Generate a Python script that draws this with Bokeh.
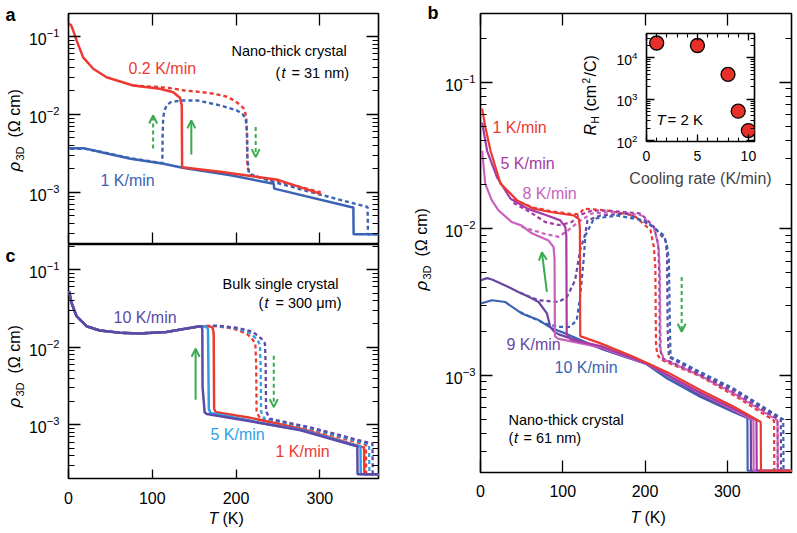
import numpy as np
from bokeh.plotting import figure
from bokeh.models import (LinearAxis, LogAxis, LogTicker, SingleIntervalTicker, Range1d,
                          Label, Arrow, OpenHead, CustomJSTickFormatter)
from bokeh.layouts import row, column
from bokeh.embed import file_html
from bokeh.resources import INLINE

FONT = "Liberation Sans"
RED = "#ec3a32"; BLUE = "#3a63b4"; LBLUE = "#2e9fe3"; PURPLE_C = "#5b4aa7"
VIOLET = "#6a46a2"; MAGENTA = "#a53ba4"; PINK = "#c862bd"; GREEN = "#3aaa4e"

# ---------------- data: panel a (nano-thick crystal, t = 31 nm) ----------------
a_red_cool_T = [0.5, 3, 5.6, 9.6, 17.5, 29.5, 45.4, 77, 109, 125, 133, 135.2, 135.6, 185.6, 250, 301]
a_red_cool_rho = [0.145, 0.140, 0.119, 0.089, 0.054, 0.0386, 0.030, 0.0235, 0.0214, 0.0193, 0.0164, 0.0130,
                  0.00211, 0.00182, 0.00145, 0.00096]
a_red_heat_T = [77, 93, 110, 125, 138, 156, 174, 190, 197.5, 205, 209.5, 212, 213, 213.5, 217.4, 253, 301]
a_red_heat_rho = [0.0235, 0.0229, 0.0224, 0.0215, 0.0203, 0.0195, 0.0184, 0.0168, 0.0151, 0.0133, 0.0118,
                  0.0095, 0.0060, 0.0021, 0.00166, 0.00136, 0.00101]
a_blue_cool_T = [0.5, 18, 38, 74, 112, 136, 193.5, 245, 245.5, 337, 340, 340.3, 372]
a_blue_cool_rho = [0.0037, 0.0037, 0.0033, 0.0027, 0.00235, 0.00207, 0.00166, 0.00129, 0.00112, 0.00065,
                   0.00064, 0.00029, 0.00029]
a_blue_heat_T = [2, 20, 40, 74, 112, 112.3, 113, 114.5, 117, 122, 134, 154, 182, 201.5, 208, 211.5, 213,
                 213.5, 215.4, 245, 297, 357, 357.4, 372]
a_blue_heat_rho = [0.00362, 0.00362, 0.00330, 0.00275, 0.00237, 0.0050, 0.0090, 0.0112, 0.0130, 0.0144,
                   0.0151, 0.0151, 0.0130, 0.0112, 0.0100, 0.0088, 0.0060, 0.00284, 0.00174, 0.00136,
                   0.00096, 0.00065, 0.00029, 0.00029]

# ---------------- data: panel c (bulk single crystal, t = 300 um) ----------------
c_common_T = [0.8, 3.6, 9.6, 21.5, 37.4, 61.3, 85, 117, 141, 157]
c_common_rho = [0.053, 0.0375, 0.0252, 0.0187, 0.0165, 0.0154, 0.0151, 0.0158, 0.0175, 0.0187]
c10_cool_T = [159, 159.7, 160, 162.5, 165, 237, 277, 341, 344.7, 345, 372]
c10_cool_rho = [0.0186, 0.017, 0.0031, 0.00145, 0.00138, 0.00102, 0.00085, 0.00054, 0.00053, 0.00023, 0.00023]
c5_cool_T = [160, 164, 166.5, 167.5, 169.5, 240, 280, 343, 348.5, 348.8, 372]
c5_cool_rho = [0.0187, 0.0186, 0.0172, 0.0016, 0.00142, 0.00101, 0.00085, 0.00054, 0.00053, 0.00023, 0.00023]
c1_cool_T = [160, 168, 172, 173.3, 173.8, 176, 217, 280, 350, 352.8, 353.1, 372]
c1_cool_rho = [0.0187, 0.0188, 0.0180, 0.0150, 0.0016, 0.00145, 0.00123, 0.00088, 0.00052, 0.00051,
               0.00023, 0.00023]
c1_heat_T = [157, 175, 197, 213, 220, 223, 224, 224.5, 229.5, 285, 352.8, 355, 355.3, 372]
c1_heat_rho = [0.0187, 0.0188, 0.0174, 0.0149, 0.0125, 0.0110, 0.0060, 0.00145, 0.00117, 0.00090, 0.00056,
               0.00055, 0.00023, 0.00023]
c5_heat_T = [157, 177, 200, 216, 225, 228.5, 229.3, 229.8, 234, 287, 356, 358.8, 359.1, 372]
c5_heat_rho = [0.0187, 0.0189, 0.0176, 0.0154, 0.0127, 0.0108, 0.0060, 0.00148, 0.00119, 0.00091, 0.00057,
               0.00056, 0.00023, 0.00023]
c10_heat_T = [157, 179, 203, 220, 230, 234.5, 235.3, 235.8, 240, 290, 360, 362.8, 363.1, 372]
c10_heat_rho = [0.0187, 0.0190, 0.0178, 0.0158, 0.0130, 0.0112, 0.0060, 0.00150, 0.00120, 0.00092, 0.00058,
                0.00057, 0.00023, 0.00023]

# ---------------- data: panel b (nano-thick crystal, t = 61 nm) ----------------
b_red_cool_T = [2, 6, 12.2, 24.3, 44.6, 64.8, 85, 113.5, 119.6, 120.8, 121.2, 146, 186.5, 227, 267.6, 308,
                340.6, 340.9, 380]
b_red_cool_rho = [0.066, 0.049, 0.034, 0.0203, 0.0156, 0.0137, 0.0130, 0.0123, 0.0117, 0.0100, 0.00185,
                  0.00165, 0.00133, 0.00105, 0.00079, 0.00061, 0.00048, 0.000223, 0.000223]
b_red_heat_T = [40, 65, 85, 110, 120, 125.7, 154, 186.5, 206.6, 210.7, 212.5, 213.3, 215, 219, 267.6, 308,
                356.8, 357.1, 380]
b_red_heat_rho = [0.0158, 0.0139, 0.0132, 0.0126, 0.0126, 0.0137, 0.0133, 0.0123, 0.0098, 0.0075, 0.0055,
                  0.0016, 0.00138, 0.00128, 0.00098, 0.00073, 0.00049, 0.000223, 0.000223]
b_mag_cool_T = [2, 8, 20, 36.5, 57, 81, 97, 103, 104.3, 104.8, 110, 146, 200, 267.6, 308, 335.4, 335.7, 380]
b_mag_cool_rho = [0.053, 0.034, 0.0225, 0.0160, 0.0137, 0.0123, 0.0114, 0.0103, 0.0090, 0.00190, 0.00175,
                  0.00158, 0.00122, 0.00076, 0.00059, 0.000495, 0.000223, 0.000223]
b_mag_heat_T = [40, 60, 78.7, 95, 103, 111, 119, 135.4, 154, 194.6, 210.8, 216, 217.3, 218, 222, 267.6, 308,
                361, 361.3, 380]
b_mag_heat_rho = [0.0150, 0.0130, 0.0111, 0.0106, 0.0108, 0.0111, 0.0123, 0.0133, 0.0133, 0.0127, 0.0103,
                  0.0078, 0.0050, 0.00150, 0.00130, 0.00100, 0.00076, 0.00050, 0.000223, 0.000223]
b_pink_cool_T = [2, 5.7, 13.8, 22, 38, 50, 62.4, 82.7, 88.8, 90, 90.5, 94, 146, 200, 267.6, 308, 331.7, 332, 380]
b_pink_cool_rho = [0.034, 0.0203, 0.0156, 0.0133, 0.0111, 0.0105, 0.0093, 0.0083, 0.0075, 0.0062, 0.00185,
                   0.00178, 0.00155, 0.00121, 0.00075, 0.00058, 0.000495, 0.000223, 0.000223]
b_pink_heat_T = [50, 78.7, 95, 107, 119, 135, 160, 195, 211, 216.5, 218, 219, 224, 267.6, 308, 361, 361.3, 380]
b_pink_heat_rho = [0.0103, 0.0092, 0.0088, 0.0098, 0.0111, 0.0127, 0.0130, 0.0124, 0.0101, 0.0075, 0.0050,
                   0.00145, 0.00127, 0.00099, 0.00075, 0.00049, 0.000223, 0.000223]
b_vio_cool_T = [0.5, 8, 14, 30, 46, 60, 70.6, 80.7, 84.8, 88.8, 95, 146, 200, 267.6, 308, 328.5, 328.8, 380]
b_vio_cool_rho = [0.00445, 0.0046, 0.0045, 0.0041, 0.0037, 0.0034, 0.00316, 0.00264, 0.00214, 0.0020, 0.0019,
                  0.00153, 0.00121, 0.00073, 0.00057, 0.00050, 0.000223, 0.000223]
b_vio_heat_T = [48, 70.6, 95, 105, 115, 121, 127.3, 130, 146, 178.5, 210.8, 225, 226.7, 227.5, 229, 239, 267.6,
                308, 365, 365.3, 380]
b_vio_heat_rho = [0.00365, 0.00325, 0.00316, 0.00342, 0.00445, 0.0071, 0.0092, 0.0114, 0.0123, 0.0127, 0.0103,
                  0.0083, 0.0066, 0.0020, 0.00133, 0.00124, 0.00102, 0.00079, 0.00050, 0.000223, 0.000223]
b_blue_cool_T = [0.5, 13.8, 30, 50, 70.6, 86.7, 103, 146, 200.7, 227, 267.6, 308, 324.4, 324.7, 380]
b_blue_cool_rho = [0.00309, 0.00325, 0.00316, 0.00264, 0.00238, 0.00209, 0.00193, 0.00152, 0.00120, 0.00095,
                   0.00071, 0.00056, 0.00051, 0.000223, 0.000223]
b_blue_heat_T = [48, 78.7, 95, 109, 117, 121, 125, 127.5, 137.8, 166, 198.6, 223, 227, 229, 230, 231, 239,
                 267.6, 308, 368, 368.3, 380]
b_blue_heat_rho = [0.0027, 0.00225, 0.00214, 0.00214, 0.00238, 0.00342, 0.0058, 0.0090, 0.0117, 0.0123, 0.0114,
                   0.0090, 0.0075, 0.0061, 0.0025, 0.00133, 0.00127, 0.00105, 0.00081, 0.00050, 0.000223,
                   0.000223]

# ---------------- data: inset (Hall coefficient at T = 2 K) ----------------
inset_rate = [1, 5, 8, 9, 10]
inset_RH = [2.3e4, 2.0e4, 4.0e3, 515, 175]

# green arrows: (x_start, y_start, x_end, y_end, dashed)
a_arrows = [(101, 3.66e-3, 101, 9.7e-3, True), (146.6, 3.07e-3, 146.6, 8.4e-3, False),
            (223.4, 6.9e-3, 223.4, 2.84e-3, True)]
c_arrows = [(151.7, 2.1e-3, 151.7, 9.6e-3, False), (245, 7.8e-3, 245, 1.69e-3, True)]
b_arrows = [(80.7, 3.7e-3, 74.6, 6.9e-3, False), (244.5, 4.69e-3, 244.5, 1.98e-3, True)]

# ---------------- geometry (page pixels of each plot frame) ----------------
GA = dict(fx=68, fy=13, fw=310, fh=231, x=(0, 370), y=(2.15e-4, 0.197))
GC = dict(fx=68, fy=244, fw=310, fh=234, x=(0, 370), y=(2.03e-4, 0.212))
GB = dict(fx=480, fy=13, fw=311, fh=459, x=(0, 378), y=(2.17e-4, 0.294))
GI = dict(fx=646, fy=33, fw=108, fh=108, x=(0, 10.6), y=(95, 3.9e4))


def pg(g, px, py):
    x0, x1 = g["x"]
    y0, y1 = np.log10(g["y"][0]), np.log10(g["y"][1])
    return (float(x0 + (px - g["fx"]) / g["fw"] * (x1 - x0)),
            float(10 ** (y1 - (py - g["fy"]) / g["fh"] * (y1 - y0))))


def make_fig(g, cl, ct, width, height, transparent=False):
    p = figure(width=width, height=height, x_range=Range1d(*g["x"]), y_range=Range1d(*g["y"]),
               y_axis_type="log", x_axis_location=None, y_axis_location=None,
               output_backend="svg", toolbar_location=None,
               min_border_left=g["fx"] - cl, min_border_top=g["fy"] - ct,
               min_border_right=width - (g["fx"] - cl) - g["fw"],
               min_border_bottom=height - (g["fy"] - ct) - g["fh"])
    p.grid.visible = False
    p.outline_line_color = "black"
    p.outline_line_width = 1.6
    p.outline_line_alpha = 1
    if transparent:
        p.border_fill_alpha = 0
    return p


def style_ticks(ax, tin, tmin):
    ax.axis_line_color = None
    ax.major_tick_in = tin
    ax.major_tick_out = 0
    ax.minor_tick_in = tmin
    ax.minor_tick_out = 0
    ax.major_tick_line_color = "black"
    ax.major_tick_line_width = 1.3
    ax.minor_tick_line_color = "black"
    ax.minor_tick_line_width = 1.1


def style_labels(ax, fs, standoff):
    ax.major_label_text_font = FONT
    ax.major_label_text_font_size = fs
    ax.major_label_text_color = "black"
    ax.major_label_standoff = standoff


def add_y(p, side, labels, fs="16px", standoff=9, tin=12, tmin=6):
    if labels:
        ax = LogAxis(ticker=LogTicker(num_minor_ticks=10))
        style_labels(ax, fs, standoff)
    else:
        ax = LinearAxis(ticker=LogTicker(num_minor_ticks=10),
                        formatter=CustomJSTickFormatter(code="return ''"))
        ax.major_label_standoff = 0
    style_ticks(ax, tin, tmin)
    p.add_layout(ax, side)
    return ax


def add_x(p, side, labels, interval=100, nminor=0, fs="16px", standoff=9, tin=12, tmin=6):
    tk = SingleIntervalTicker(interval=interval, num_minor_ticks=nminor)
    if labels:
        ax = LinearAxis(ticker=tk)
        style_labels(ax, fs, standoff)
    else:
        ax = LinearAxis(ticker=tk, formatter=CustomJSTickFormatter(code="return ''"))
        ax.major_label_orientation = "vertical"
        ax.major_label_standoff = 0
    style_ticks(ax, tin, tmin)
    p.add_layout(ax, side)
    return ax


def txt(p, g, text, px, py, size="15px", color="black", style="normal", angle=0.0, align="left"):
    x, y = pg(g, px, py)
    p.add_layout(Label(x=x, y=y, text=text, text_font=FONT, text_font_size=size, text_color=color,
                       text_font_style=style, angle=angle, text_align=align, text_baseline="middle"))


def arrows(p, specs):
    for xs, ys, xe, ye, dashed in specs:
        p.add_layout(Arrow(x_start=xs, y_start=ys, x_end=xe, y_end=ye, line_color=GREEN, line_width=2,
                           line_dash="4 3" if dashed else "solid",
                           end=OpenHead(size=8, line_color=GREEN, line_width=2)))


# ---------------- panel a ----------------
pa = make_fig(GA, 0, 0, 398, 244)
add_y(pa, "left", True)
add_y(pa, "right", False)
add_x(pa, "below", False)
add_x(pa, "above", False)
pa.line(a_red_heat_T, a_red_heat_rho, line_color=RED, line_width=2.4, line_dash="4 3")
pa.line(a_blue_heat_T, a_blue_heat_rho, line_color=BLUE, line_width=2.4, line_dash="4 3")
pa.line(a_blue_cool_T, a_blue_cool_rho, line_color=BLUE, line_width=2.5)
pa.line(a_red_cool_T, a_red_cool_rho, line_color=RED, line_width=2.5)
arrows(pa, a_arrows)
txt(pa, GA, "Nano-thick crystal", 231, 50, size="14.5px")
txt(pa, GA, "(", 275, 72, size="14.5px")
txt(pa, GA, "t", 281, 72, size="14.5px", style="italic")
txt(pa, GA, "= 31 nm)", 291, 72, size="14.5px")
txt(pa, GA, "0.2 K/min", 128, 68, size="16px", color=RED)
txt(pa, GA, "1 K/min", 100, 180, size="16px", color=BLUE)

# ---------------- panel c ----------------
pc = make_fig(GC, 0, 244, 398, 284)
add_y(pc, "left", True)
add_y(pc, "right", False)
add_x(pc, "below", True, standoff=13, tin=9)
for T_tail, r_tail, col in [(c1_heat_T, c1_heat_rho, RED), (c5_heat_T, c5_heat_rho, LBLUE),
                            (c10_heat_T, c10_heat_rho, PURPLE_C)]:
    pc.line(c_common_T + T_tail, c_common_rho + r_tail, line_color=col, line_width=2.3, line_dash="4 3")
for T2, r2, col in [(c1_cool_T, c1_cool_rho, RED), (c5_cool_T, c5_cool_rho, LBLUE),
                    (c10_cool_T, c10_cool_rho, PURPLE_C)]:
    pc.line(c_common_T + T2, c_common_rho + r2, line_color=col, line_width=2.5)
arrows(pc, c_arrows)
txt(pc, GC, "Bulk single crystal", 222, 283, size="14.5px")
txt(pc, GC, "(", 258, 302, size="14.5px")
txt(pc, GC, "t", 264, 302, size="14.5px", style="italic")
txt(pc, GC, "= 300 \u03bcm)", 275, 302, size="14.5px")
txt(pc, GC, "10 K/min", 113, 317, size="16px", color=PURPLE_C)
txt(pc, GC, "5 K/min", 210, 434, size="16px", color=LBLUE)
txt(pc, GC, "1 K/min", 275, 451, size="16px", color=RED)

# ---------------- panel b ----------------
pb = make_fig(GB, 398, 0, 397, 527)
add_y(pb, "left", True, standoff=5)
add_y(pb, "right", False)
add_x(pb, "below", True, standoff=12)
add_x(pb, "above", False)
for T, r, col in [(b_red_heat_T, b_red_heat_rho, RED), (b_mag_heat_T, b_mag_heat_rho, MAGENTA),
                  (b_pink_heat_T, b_pink_heat_rho, PINK), (b_vio_heat_T, b_vio_heat_rho, VIOLET),
                  (b_blue_heat_T, b_blue_heat_rho, BLUE)]:
    pb.line(T, r, line_color=col, line_width=2.2, line_dash="4 3")
for T, r, col in [(b_blue_cool_T, b_blue_cool_rho, BLUE), (b_vio_cool_T, b_vio_cool_rho, VIOLET),
                  (b_pink_cool_T, b_pink_cool_rho, PINK), (b_mag_cool_T, b_mag_cool_rho, MAGENTA),
                  (b_red_cool_T, b_red_cool_rho, RED)]:
    pb.line(T, r, line_color=col, line_width=2.2)
arrows(pb, b_arrows)
txt(pb, GB, "1 K/min", 492, 127, size="16px", color=RED)
txt(pb, GB, "5 K/min", 500, 163, size="16px", color=MAGENTA)
txt(pb, GB, "8 K/min", 522, 193, size="16px", color=PINK)
txt(pb, GB, "9 K/min", 506, 344, size="16px", color=VIOLET)
txt(pb, GB, "10 K/min", 554, 367, size="16px", color=BLUE)
txt(pb, GB, "Nano-thick crystal", 508, 419, size="14.5px")
txt(pb, GB, "(", 508, 437, size="14.5px")
txt(pb, GB, "t", 513.5, 437, size="14.5px", style="italic")
txt(pb, GB, "= 61 nm)", 523, 437, size="14.5px")

# ---------------- inset (own root, absolutely positioned over panel b) ----------------
pin = make_fig(GI, 576, 26, 205, 170, transparent=True)
add_y(pin, "left", True, fs="14px", standoff=9, tin=8, tmin=4)
add_y(pin, "right", False, tin=8, tmin=4)
ix = add_x(pin, "below", True, interval=5, nminor=5, fs="14px", standoff=9, tin=7, tmin=4)
ix.axis_label = "Cooling rate (K/min)"
ix.axis_label_text_font = FONT
ix.axis_label_text_font_size = "16px"
ix.axis_label_text_font_style = "normal"
ix.axis_label_standoff = 6
add_x(pin, "above", False, interval=5, nminor=5, tin=7, tmin=4)
pin.scatter(inset_rate, inset_RH, size=14, fill_color="#e8302a", line_color="black", line_width=1.3)
txt(pin, GI, "T", 656, 119, style="italic")
txt(pin, GI, "= 2 K", 667, 119)
pin.styles = {"position": "absolute", "left": "576px", "top": "26px"}

# ---------------- overlay (own root) for texts outside the frames, page pixel coordinates ----------------
ov = figure(width=795, height=530, x_range=Range1d(0, 795), y_range=Range1d(530, 0),
            x_axis_location=None, y_axis_location=None, output_backend="svg", toolbar_location=None,
            min_border=0, background_fill_alpha=0, border_fill_alpha=0, outline_line_color=None)
ov.grid.visible = False
ov.styles = {"position": "absolute", "left": "0px", "top": "0px"}


def otxt(text, x, y, size="15px", style="normal", angle=0.0):
    ov.add_layout(Label(x=x, y=y, text=text, text_font=FONT, text_font_size=size, text_color="black",
                        text_font_style=style, angle=angle, text_align="left", text_baseline="middle"))


R90 = np.pi / 2
for t, x, y in [("a", 5, 14), ("c", 5, 255), ("b", 427, 12)]:
    otxt(t, x, y, size="18px", style="bold")
# rho_3D (Omega cm) titles: (x of main text, start of rho, start of subscript, start of unit)
for x, y_rho, y_sub, y_unit in [(14, 171, 160, 137), (14, 407, 396, 373), (421, 290, 279, 256)]:
    otxt("\u03c1", x, y_rho, size="17px", style="italic", angle=R90)
    otxt("3D", x + 5, y_sub, size="11px", angle=R90)
    otxt("(\u03a9 cm)", x, y_unit, size="16px", angle=R90)
# T (K) axis titles
for x, y in [(208, 518), (630, 517)]:
    otxt("T", x, y, size="16px", style="italic")
    otxt("(K)", x + 14, y, size="16px")
# R_H (cm^2/C) inset title
otxt("R", 590, 135, size="16px", style="italic", angle=R90)
otxt("H", 595, 123, size="10px", angle=R90)
otxt("(cm", 590, 111, size="16px", angle=R90)
otxt("2", 585, 83, size="10px", angle=R90)
otxt("/C)", 590, 76, size="16px", angle=R90)

layout = row(column(pa, pc), pb)
open("out.html", "w").write(file_html([layout, pin, ov], INLINE))
